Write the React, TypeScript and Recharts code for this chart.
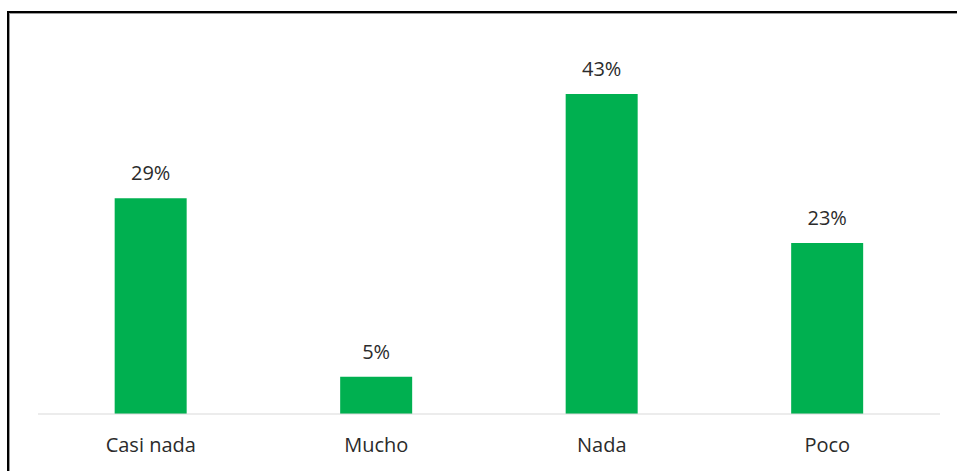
import React from "react";
import { BarChart, Bar, XAxis, YAxis, LabelList } from "recharts";

const categories = ["Casi nada", "Mucho", "Nada", "Poco"];
const values = [29, 5, 43, 23];

const data = categories.map((c, i) => ({ name: c, value: values[i] }));

const FONT = "'Open Sans', 'Liberation Sans', sans-serif";

export default function App() {
  return (
    <div style={{ position: "fixed", left: 0, top: 0, width: 957, height: 471, background: "#fff", overflow: "hidden" }}>
      <div
        style={{
          position: "absolute",
          left: 7,
          top: 11,
          width: 960,
          height: 470,
          borderLeft: "2px solid #000",
          borderTop: "2px solid #000",
          boxSizing: "border-box",
        }}
      >
        <div style={{ width: "100%", height: "100%", borderLeft: "1px solid #9a9a9a", borderTop: "1px solid #9a9a9a", boxSizing: "border-box" }} />
      </div>
      <div style={{ position: "absolute", left: 0, top: 0 }}>
        <BarChart
          width={957}
          height={471}
          data={data}
          margin={{ top: 42, right: 17, left: 38, bottom: 27 }}
          barCategoryGap="34%"
        >
          <XAxis
            dataKey="name"
            axisLine={{ stroke: "#d9d9d9", strokeWidth: 1 }}
            tickLine={false}
            height={30}
            tickMargin={18}
            tick={{ fill: "#2b2b2b", fontSize: 20, fontFamily: FONT }}
          />
          <YAxis hide domain={[0, 50]} />
          <Bar dataKey="value" fill="#00B050" isAnimationActive={false}>
            <LabelList
              dataKey="value"
              position="top"
              offset={18}
              formatter={(v: number) => `${v}%`}
              style={{ fill: "#2b2b2b", fontSize: 20, fontFamily: FONT }}
            />
          </Bar>
        </BarChart>
      </div>
    </div>
  );
}
